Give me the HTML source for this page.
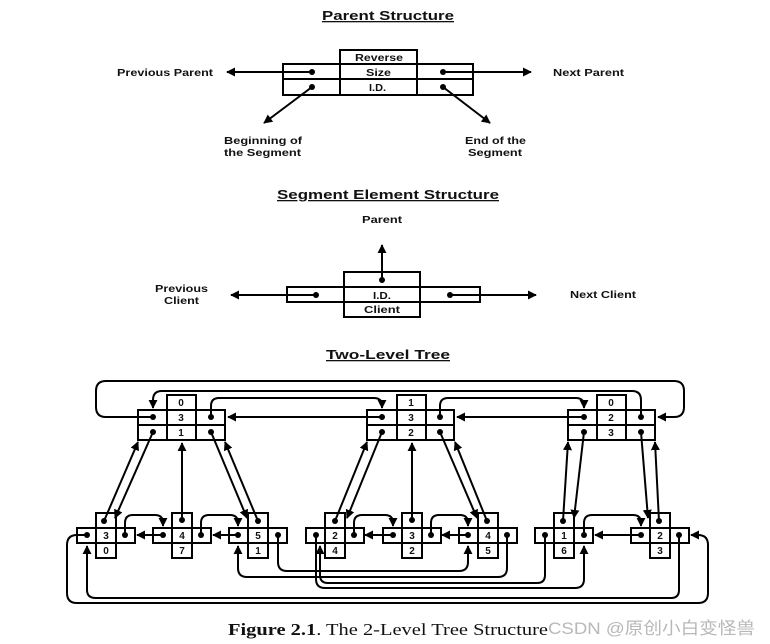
<!DOCTYPE html>
<html><head><meta charset="utf-8"><style>
html,body{margin:0;padding:0;background:#fff;}
svg{display:block;}
text{font-family:"Liberation Sans",Arial,sans-serif;font-weight:bold;fill:#111;}
</style></head><body>
<svg width="770" height="644" viewBox="0 0 770 644" xmlns="http://www.w3.org/2000/svg">
<defs>
<marker id="a" viewBox="0 0 10 10" refX="9" refY="5" markerWidth="4.5" markerHeight="4.5" orient="auto-start-reverse" markerUnits="strokeWidth"><path d="M0,0L10,5L0,10z" fill="#000"/></marker>
</defs>
<g stroke="#000" stroke-width="2" fill="none">
<rect x="340" y="50" width="77" height="14"/>
<rect x="283" y="64" width="190" height="31"/>
<line x1="283" y1="79" x2="473" y2="79"/>
<line x1="340" y1="64" x2="340" y2="95"/>
<line x1="417" y1="64" x2="417" y2="95"/>
<line x1="312" y1="72" x2="227" y2="72" marker-end="url(#a)"/>
<line x1="443" y1="72" x2="531" y2="72" marker-end="url(#a)"/>
<line x1="312" y1="87" x2="264" y2="123" marker-end="url(#a)"/>
<line x1="443" y1="87" x2="490" y2="123" marker-end="url(#a)"/>
<rect x="344" y="272" width="76" height="45"/>
<line x1="344" y1="287" x2="420" y2="287"/>
<line x1="344" y1="302" x2="420" y2="302"/>
<rect x="287" y="287" width="57" height="15"/>
<rect x="420" y="287" width="60" height="15"/>
<line x1="382" y1="280" x2="382" y2="245" marker-end="url(#a)"/>
<line x1="316" y1="295" x2="231" y2="295" marker-end="url(#a)"/>
<line x1="450" y1="295" x2="536" y2="295" marker-end="url(#a)"/>
</g>
<g fill="#000">
<circle cx="312" cy="72" r="3"/><circle cx="312" cy="87" r="3"/>
<circle cx="443" cy="72" r="3"/><circle cx="443" cy="87" r="3"/>
<circle cx="382" cy="280" r="3"/><circle cx="316" cy="295" r="3"/><circle cx="450" cy="295" r="3"/>
</g>
<g font-size="11" lengthAdjust="spacingAndGlyphs">
<text x="322" y="20" font-size="13" text-decoration="underline" textLength="132" lengthAdjust="spacingAndGlyphs">Parent Structure</text>
<text x="355" y="61" font-size="10" textLength="48" lengthAdjust="spacingAndGlyphs">Reverse</text>
<text x="366" y="76" font-size="10" textLength="25" lengthAdjust="spacingAndGlyphs">Size</text>
<text x="369" y="91" font-size="10" textLength="17" lengthAdjust="spacingAndGlyphs">I.D.</text>
<text x="117" y="76" font-size="10" textLength="96" lengthAdjust="spacingAndGlyphs">Previous Parent</text>
<text x="553" y="76" font-size="10" textLength="71" lengthAdjust="spacingAndGlyphs">Next Parent</text>
<text x="224" y="144" font-size="10" textLength="78" lengthAdjust="spacingAndGlyphs">Beginning of</text>
<text x="224" y="156" font-size="10" textLength="77" lengthAdjust="spacingAndGlyphs">the Segment</text>
<text x="465" y="144" font-size="10" textLength="61" lengthAdjust="spacingAndGlyphs">End of the</text>
<text x="468" y="156" font-size="10" textLength="54" lengthAdjust="spacingAndGlyphs">Segment</text>
<text x="277" y="199" font-size="13" text-decoration="underline" textLength="222" lengthAdjust="spacingAndGlyphs">Segment Element Structure</text>
<text x="362" y="223" font-size="10" textLength="40" lengthAdjust="spacingAndGlyphs">Parent</text>
<text x="373" y="299" font-size="10" textLength="18" lengthAdjust="spacingAndGlyphs">I.D.</text>
<text x="364" y="313" font-size="10" textLength="36" lengthAdjust="spacingAndGlyphs">Client</text>
<text x="155" y="292" font-size="10" textLength="53" lengthAdjust="spacingAndGlyphs">Previous</text>
<text x="164" y="304" font-size="10" textLength="35" lengthAdjust="spacingAndGlyphs">Client</text>
<text x="570" y="298" font-size="10" textLength="66" lengthAdjust="spacingAndGlyphs">Next Client</text>
<text x="326" y="359" font-size="13" text-decoration="underline" textLength="124" lengthAdjust="spacingAndGlyphs">Two-Level Tree</text>
</g>

<g stroke="#000" stroke-width="2" fill="none">
<rect x="167" y="395" width="29" height="45"/><rect x="138" y="410" width="87" height="30"/>
<line x1="138" y1="425" x2="225" y2="425"/><line x1="167" y1="395" x2="167" y2="440"/><line x1="196" y1="395" x2="196" y2="440"/><line x1="167" y1="410" x2="196" y2="410"/>
<rect x="397" y="395" width="29" height="45"/><rect x="367" y="410" width="87" height="30"/>
<line x1="367" y1="425" x2="454" y2="425"/><line x1="397" y1="395" x2="397" y2="440"/><line x1="426" y1="395" x2="426" y2="440"/><line x1="397" y1="410" x2="426" y2="410"/>
<rect x="597" y="395" width="29" height="45"/><rect x="568" y="410" width="87" height="30"/>
<line x1="568" y1="425" x2="655" y2="425"/><line x1="597" y1="395" x2="597" y2="440"/><line x1="626" y1="395" x2="626" y2="440"/><line x1="597" y1="410" x2="626" y2="410"/>
</g>
<g font-size="10" text-anchor="middle">
<text x="181" y="406">0</text><text x="181" y="421">3</text><text x="181" y="436">1</text>
<text x="411" y="406">1</text><text x="411" y="421">3</text><text x="411" y="436">2</text>
<text x="611" y="406">0</text><text x="611" y="421">2</text><text x="611" y="436">3</text>
</g>

<g stroke="#000" stroke-width="2" fill="none">
<path d="M96,513h20v45h-20z M77,528h58v15h-58z M96,528h20 M96,543h20"/>
<path d="M172,513h20v45h-20z M153,528h58v15h-58z M172,528h20 M172,543h20"/>
<path d="M248,513h20v45h-20z M229,528h58v15h-58z M248,528h20 M248,543h20"/>
<path d="M325,513h20v45h-20z M306,528h58v15h-58z M325,528h20 M325,543h20"/>
<path d="M402,513h20v45h-20z M383,528h58v15h-58z M402,528h20 M402,543h20"/>
<path d="M478,513h20v45h-20z M459,528h58v15h-58z M478,528h20 M478,543h20"/>
<path d="M554,513h20v45h-20z M535,528h58v15h-58z M554,528h20 M554,543h20"/>
<path d="M650,513h20v45h-20z M631,528h58v15h-58z M650,528h20 M650,543h20"/>
</g>
<g font-size="10" text-anchor="middle">
<text x="106" y="539">3</text><text x="106" y="554">0</text>
<text x="182" y="539">4</text><text x="182" y="554">7</text>
<text x="258" y="539">5</text><text x="258" y="554">1</text>
<text x="335" y="539">2</text><text x="335" y="554">4</text>
<text x="412" y="539">3</text><text x="412" y="554">2</text>
<text x="488" y="539">4</text><text x="488" y="554">5</text>
<text x="564" y="539">1</text><text x="564" y="554">6</text>
<text x="660" y="539">2</text><text x="660" y="554">3</text>
</g>

<g stroke="#000" stroke-width="2" fill="none">
<path d="M153,417 H106 Q96,417 96,407 V391 Q96,381 106,381 H674 Q684,381 684,391 V407 Q684,417 674,417 H658" marker-end="url(#a)"/>
<path d="M641,417 V400 Q641,391 632,391 H162 Q153,391 153,400 V408" marker-end="url(#a)"/>
<path d="M211,417 V406 Q211,398 219,398 H374 Q382,398 382,406 V408" marker-end="url(#a)"/>
<path d="M440,417 V406 Q440,398 448,398 H576 Q584,398 584,406 V408" marker-end="url(#a)"/>
<line x1="382" y1="417" x2="228" y2="417" marker-end="url(#a)"/>
<line x1="584" y1="417" x2="457" y2="417" marker-end="url(#a)"/>
<line x1="153" y1="432" x2="115" y2="518" marker-end="url(#a)"/>
<line x1="104" y1="521" x2="138" y2="442" marker-end="url(#a)"/>
<line x1="182" y1="520" x2="182" y2="443" marker-end="url(#a)"/>
<line x1="211" y1="432" x2="247" y2="518" marker-end="url(#a)"/>
<line x1="258" y1="521" x2="225" y2="442" marker-end="url(#a)"/>
<line x1="335" y1="521" x2="367" y2="442" marker-end="url(#a)"/>
<line x1="382" y1="432" x2="347" y2="518" marker-end="url(#a)"/>
<line x1="412" y1="520" x2="412" y2="443" marker-end="url(#a)"/>
<line x1="440" y1="432" x2="477" y2="518" marker-end="url(#a)"/>
<line x1="487" y1="521" x2="455" y2="442" marker-end="url(#a)"/>
<line x1="563" y1="521" x2="568" y2="442" marker-end="url(#a)"/>
<line x1="584" y1="432" x2="574" y2="518" marker-end="url(#a)"/>
<line x1="641" y1="432" x2="648" y2="518" marker-end="url(#a)"/>
<line x1="659" y1="521" x2="655" y2="442" marker-end="url(#a)"/>
<path d="M125,535 V523 Q125,515 133,515 H155 Q163,515 163,523 V526" marker-end="url(#a)"/>
<line x1="163" y1="535" x2="137" y2="535" marker-end="url(#a)"/>
<path d="M201,535 V523 Q201,515 209,515 H230 Q238,515 238,523 V526" marker-end="url(#a)"/>
<line x1="238" y1="535" x2="213" y2="535" marker-end="url(#a)"/>
<path d="M354,535 V523 Q354,515 362,515 H385 Q393,515 393,523 V526" marker-end="url(#a)"/>
<line x1="393" y1="535" x2="365" y2="535" marker-end="url(#a)"/>
<path d="M431,535 V523 Q431,515 439,515 H460 Q468,515 468,523 V526" marker-end="url(#a)"/>
<line x1="468" y1="535" x2="442" y2="535" marker-end="url(#a)"/>
<path d="M584,535 V523 Q584,515 592,515 H633 Q641,515 641,523 V526" marker-end="url(#a)"/>
<line x1="641" y1="535" x2="595" y2="535" marker-end="url(#a)"/>
<path d="M87,535 H77 Q67,535 67,545 V593 Q67,603 77,603 H698 Q708,603 708,593 V545 Q708,535 698,535 H691" marker-end="url(#a)"/>
<path d="M679,535 V590 Q679,598 671,598 H96 Q87,598 87,590 V546" marker-end="url(#a)"/>
<path d="M278,535 V562 Q278,571 287,571 H459 Q468,571 468,562 V546" marker-end="url(#a)"/>
<path d="M507,535 V568 Q507,577 498,577 H247 Q238,577 238,568 V546" marker-end="url(#a)"/>
<path d="M316,535 V579 Q316,588 325,588 H575 Q584,588 584,579 V546" marker-end="url(#a)"/>
<path d="M545,535 V575 Q545,583 537,583 H328 Q320,583 320,575 V546" marker-end="url(#a)"/>
</g>
<g fill="#000">
<circle cx="153" cy="417" r="3"/><circle cx="211" cy="417" r="3"/><circle cx="153" cy="432" r="3"/><circle cx="211" cy="432" r="3"/>
<circle cx="382" cy="417" r="3"/><circle cx="440" cy="417" r="3"/><circle cx="382" cy="432" r="3"/><circle cx="440" cy="432" r="3"/>
<circle cx="584" cy="417" r="3"/><circle cx="641" cy="417" r="3"/><circle cx="584" cy="432" r="3"/><circle cx="641" cy="432" r="3"/>
<circle cx="104" cy="521" r="3"/><circle cx="182" cy="520" r="3"/><circle cx="258" cy="521" r="3"/><circle cx="335" cy="521" r="3"/>
<circle cx="412" cy="520" r="3"/><circle cx="487" cy="521" r="3"/><circle cx="563" cy="521" r="3"/><circle cx="659" cy="521" r="3"/>
<circle cx="87" cy="535" r="3"/><circle cx="125" cy="535" r="3"/><circle cx="163" cy="535" r="3"/><circle cx="201" cy="535" r="3"/>
<circle cx="238" cy="535" r="3"/><circle cx="278" cy="535" r="3"/><circle cx="316" cy="535" r="3"/><circle cx="354" cy="535" r="3"/>
<circle cx="393" cy="535" r="3"/><circle cx="431" cy="535" r="3"/><circle cx="468" cy="535" r="3"/><circle cx="507" cy="535" r="3"/>
<circle cx="545" cy="535" r="3"/><circle cx="584" cy="535" r="3"/><circle cx="641" cy="535" r="3"/><circle cx="679" cy="535" r="3"/>
</g>
<text x="228" y="635" textLength="320" lengthAdjust="spacingAndGlyphs" style="font-family:'Liberation Serif',serif;font-weight:normal;font-size:17px;"><tspan font-weight="bold">Figure 2.1</tspan>.  The 2-Level Tree Structure</text>
<text x="548" y="634" textLength="207" lengthAdjust="spacingAndGlyphs" style="font-family:'Liberation Sans','Noto Sans CJK SC',sans-serif;font-weight:normal;font-size:17px;fill:#b8b8b8;">CSDN @原创小白变怪兽</text>
</svg>
</body></html>
